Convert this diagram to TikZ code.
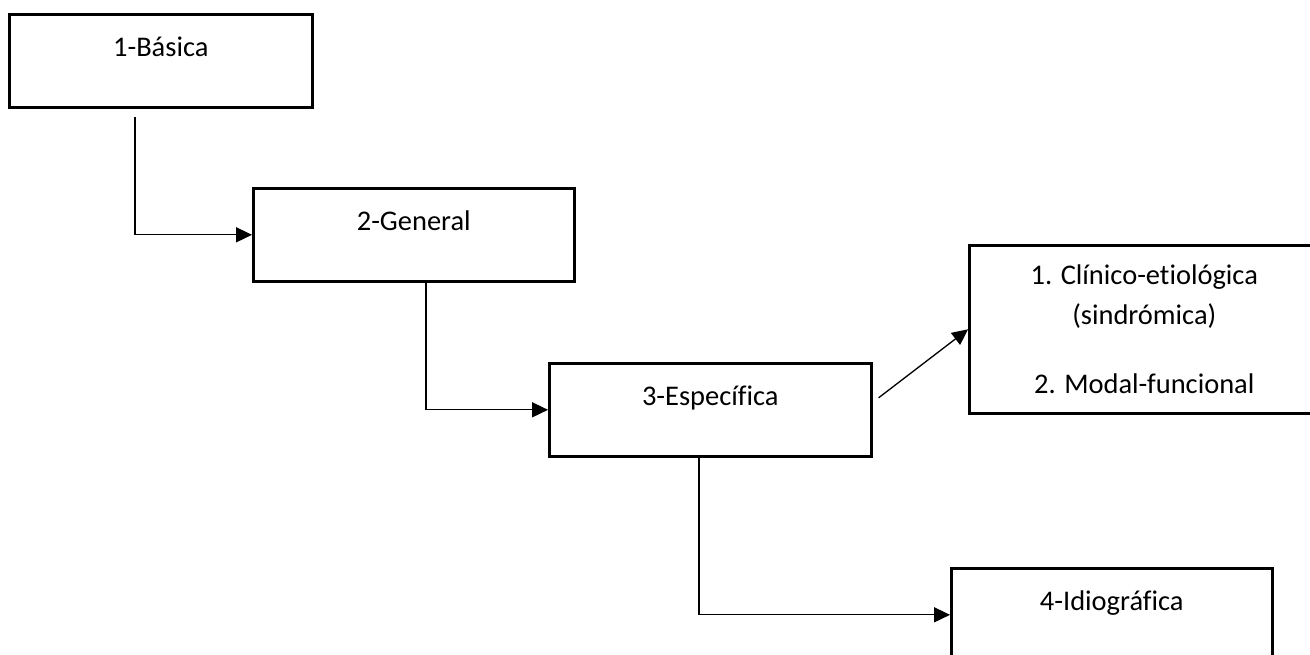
\documentclass[tikz,border=0pt]{standalone}
\usepackage{fontspec}
\setmainfont{Carlito}[Ligatures=NoCommon]
\usetikzlibrary{arrows.meta,calc}

\begin{document}
\begin{tikzpicture}[x=0.02cm,y=-0.02cm,>={Triangle[length=9pt,width=8.5pt]},
  stage/.style={draw,line width=1.5pt,anchor=north west,minimum height=1.86cm,
    inner sep=0pt,text height=12pt,text depth=17pt,font=\fontsize{16.2}{19}\selectfont},
  link/.style={->,line width=0.75pt}]
  % --- page frame (the side box runs off the right edge) ---
  \useasboundingbox (0,0) rectangle (1310,654);
  \clip (0,0) rectangle (1310,654);
  % --- the four levels, stepping down ---
  \node[stage,minimum width=6.06cm] (basica) at (8,13) {1-Básica};
  \node[stage,minimum width=6.42cm] (general) at (252,187) {2-General};
  \node[stage,minimum width=6.44cm] (especifica) at (548,362) {3-Específica};
  \node[stage,minimum width=6.42cm] (idiografica) at (950,567) {4-Idiográfica};
  % --- side box with the two kinds of specific level ---
  \node[draw,line width=1.5pt,anchor=north west,minimum width=7cm,minimum height=3.36cm,
        align=center,font=\fontsize{16.2}{22.7}\selectfont] (tipos) at (968,244)
       {1. Clínico-etiológica\\(sindrómica)\\[17pt]2. Modal-funcional};
  % --- elbow connectors ---
  \coordinate (c1) at ($(basica.south west)+(127,8)$);
  \draw[link] (c1) |- (general.west);
  \coordinate (c2) at ($(general.south west)+(174,0)$);
  \draw[link] (c2) |- (especifica.west);
  \coordinate (c3) at ($(especifica.south west)+(151,-2)$);
  \draw[link] (c3) |- (idiografica.west);
  % --- diagonal arrow to the side box ---
  \coordinate (c4) at ($(especifica.east)+(6,-12)$);
  \draw[link] (c4) -- (tipos.west);
\end{tikzpicture}
\end{document}
